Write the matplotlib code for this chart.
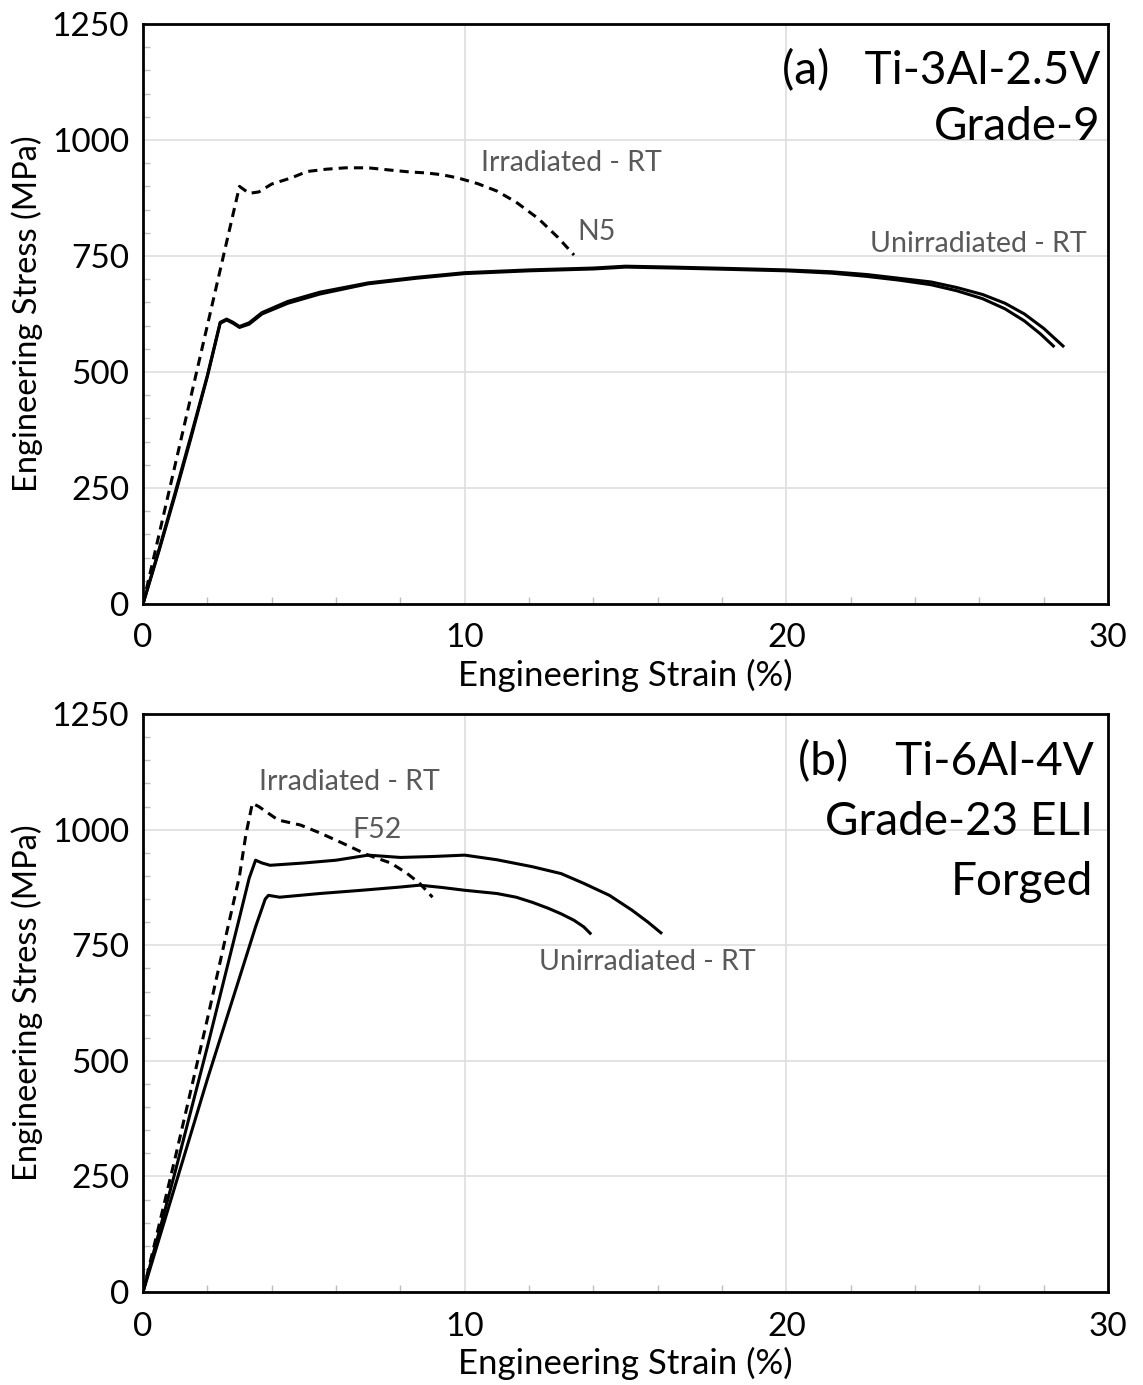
import matplotlib.pyplot as plt
from matplotlib.ticker import MultipleLocator

plt.rcParams['font.family'] = ['Lato', 'DejaVu Sans']

# (a) Ti-3Al-2.5V Grade-9
a_irr_x = [0, 1.0, 2.0, 2.8, 3.0, 3.3, 3.6, 4.0, 4.6, 5.1, 5.7, 6.3, 7.0, 7.7, 8.3, 8.8,
           9.3, 9.8, 10.4, 11.0, 11.6, 12.3, 12.9, 13.4]
a_irr_y = [0, 300, 600, 840, 900, 885, 888, 905, 918, 932, 937, 940, 940, 935, 931, 929,
           925, 918, 906, 890, 866, 830, 790, 752]
a_un1_x = [0, 0.5, 1.0, 1.5, 2.0, 2.4, 2.6, 2.8, 3.0, 3.3, 3.7, 4.5, 5.5, 7.0, 8.5, 10.0,
           12.0, 14.0, 15.0, 16.5, 18.3, 20.0, 21.4, 22.5, 23.5, 24.5, 25.3, 26.1, 26.8,
           27.4, 27.9, 28.3]
a_un1_y = [0, 115, 235, 360, 490, 605, 612, 605, 596, 603, 625, 648, 668, 690, 702, 712,
           718, 722, 726, 724, 721, 718, 713, 706, 698, 688, 675, 658, 636, 610, 582, 556]
a_un2_x = [0, 0.5, 1.0, 1.5, 2.0, 2.4, 2.6, 2.8, 3.0, 3.3, 3.7, 4.5, 5.5, 7.0, 8.5, 10.0,
           12.0, 14.0, 15.0, 16.5, 18.3, 20.0, 21.4, 22.5, 23.5, 24.5, 25.3, 26.1, 26.8,
           27.4, 28.0, 28.6]
a_un2_y = [0, 118, 240, 365, 492, 607, 614, 607, 598, 606, 628, 652, 672, 692, 704, 714,
           720, 724, 728, 726, 723, 720, 716, 710, 702, 694, 682, 667, 648, 625, 594, 556]

# (b) Ti-6Al-4V Grade-23 ELI Forged
b_irr_x = [0, 1.0, 2.0, 2.5, 3.0, 3.2, 3.4, 3.6, 4.2, 4.9, 5.5, 6.2, 7.0, 7.7, 8.2, 8.6, 9.0]
b_irr_y = [0, 290, 590, 746, 900, 990, 1057, 1050, 1021, 1010, 993, 971, 945, 928, 906, 884, 854]
b_un1_x = [0, 0.5, 1.0, 2.0, 3.0, 3.3, 3.5, 3.7, 3.95, 5.0, 6.0, 7.0, 8.0, 9.0, 10.0, 11.0,
           12.1, 13.0, 13.7, 14.5, 15.2, 15.7, 16.1]
b_un1_y = [0, 130, 260, 530, 810, 895, 934, 928, 923, 928, 934, 945, 940, 942, 945, 935,
           920, 905, 884, 858, 826, 800, 777]
b_un2_x = [0, 0.5, 1.0, 2.0, 3.0, 3.5, 3.8, 3.9, 4.25, 5.5, 6.8, 8.0, 8.6, 9.3, 10.0, 11.0,
           11.6, 12.1, 12.6, 13.0, 13.4, 13.7, 13.9]
b_un2_y = [0, 115, 230, 460, 680, 790, 850, 858, 854, 862, 869, 876, 880, 875, 869, 862,
           854, 843, 830, 818, 804, 790, 776]

label_color = '#595959'

fig = plt.figure(figsize=(11.43, 13.85), dpi=100)
ax1 = fig.add_axes([0.1251, 0.5639, 0.8443, 0.4188])
ax2 = fig.add_axes([0.1251, 0.0671, 0.8443, 0.4173])

for ax in (ax1, ax2):
    ax.set_xlim(0, 30)
    ax.set_ylim(0, 1250)
    ax.xaxis.set_major_locator(MultipleLocator(10))
    ax.xaxis.set_minor_locator(MultipleLocator(2))
    ax.yaxis.set_major_locator(MultipleLocator(250))
    ax.yaxis.set_minor_locator(MultipleLocator(50))
    ax.tick_params(which='major', length=0, labelsize=24, pad=10)
    ax.tick_params(axis='x', which='major', pad=14)
    ax.tick_params(which='minor', direction='in', length=5, width=1, color='#bfbfbf')
    ax.grid(True, which='major', color='#dedede', lw=1.2)
    ax.set_axisbelow(True)
    for s in ax.spines.values():
        s.set_linewidth(2)
    ax.set_xlabel('Engineering Strain (%)', fontsize=25, labelpad=4)
    ax.set_ylabel('Engineering Stress (MPa)', fontsize=23.5, labelpad=6)

ax1.plot(a_irr_x, a_irr_y, color='black', lw=2.2, ls=(0, (3, 2)))
ax1.plot(a_un1_x, a_un1_y, color='black', lw=2.2)
ax1.plot(a_un2_x, a_un2_y, color='black', lw=2.2)
ax1.text(10.5, 950, 'Irradiated - RT', color=label_color, fontsize=20.5, va='center')
ax1.text(13.5, 802, 'N5', color=label_color, fontsize=20.5, va='center')
ax1.text(29.35, 776, 'Unirradiated - RT', color=label_color, fontsize=20.5, va='center', ha='right')
ax1.text(0.992, 0.92, '(a)   Ti-3Al-2.5V', transform=ax1.transAxes, fontsize=33,
         ha='right', va='center')
ax1.text(0.992, 0.822, 'Grade-9', transform=ax1.transAxes, fontsize=33,
         ha='right', va='center')

ax2.plot(b_irr_x, b_irr_y, color='black', lw=2.2, ls=(0, (3, 2)))
ax2.plot(b_un1_x, b_un1_y, color='black', lw=2.2)
ax2.plot(b_un2_x, b_un2_y, color='black', lw=2.2)
ax2.text(3.6, 1103, 'Irradiated - RT', color=label_color, fontsize=20.5, va='center')
ax2.text(6.5, 999, 'F52', color=label_color, fontsize=20.5, va='center')
ax2.text(12.3, 714, 'Unirradiated - RT', color=label_color, fontsize=20.5, va='center')
ax2.text(0.985, 0.917, '(b)    Ti-6Al-4V', transform=ax2.transAxes, fontsize=33,
         ha='right', va='center')
ax2.text(0.985, 0.813, 'Grade-23 ELI', transform=ax2.transAxes, fontsize=33,
         ha='right', va='center')
ax2.text(0.985, 0.71, 'Forged', transform=ax2.transAxes, fontsize=33,
         ha='right', va='center')

fig.savefig('out.png', dpi=100)
